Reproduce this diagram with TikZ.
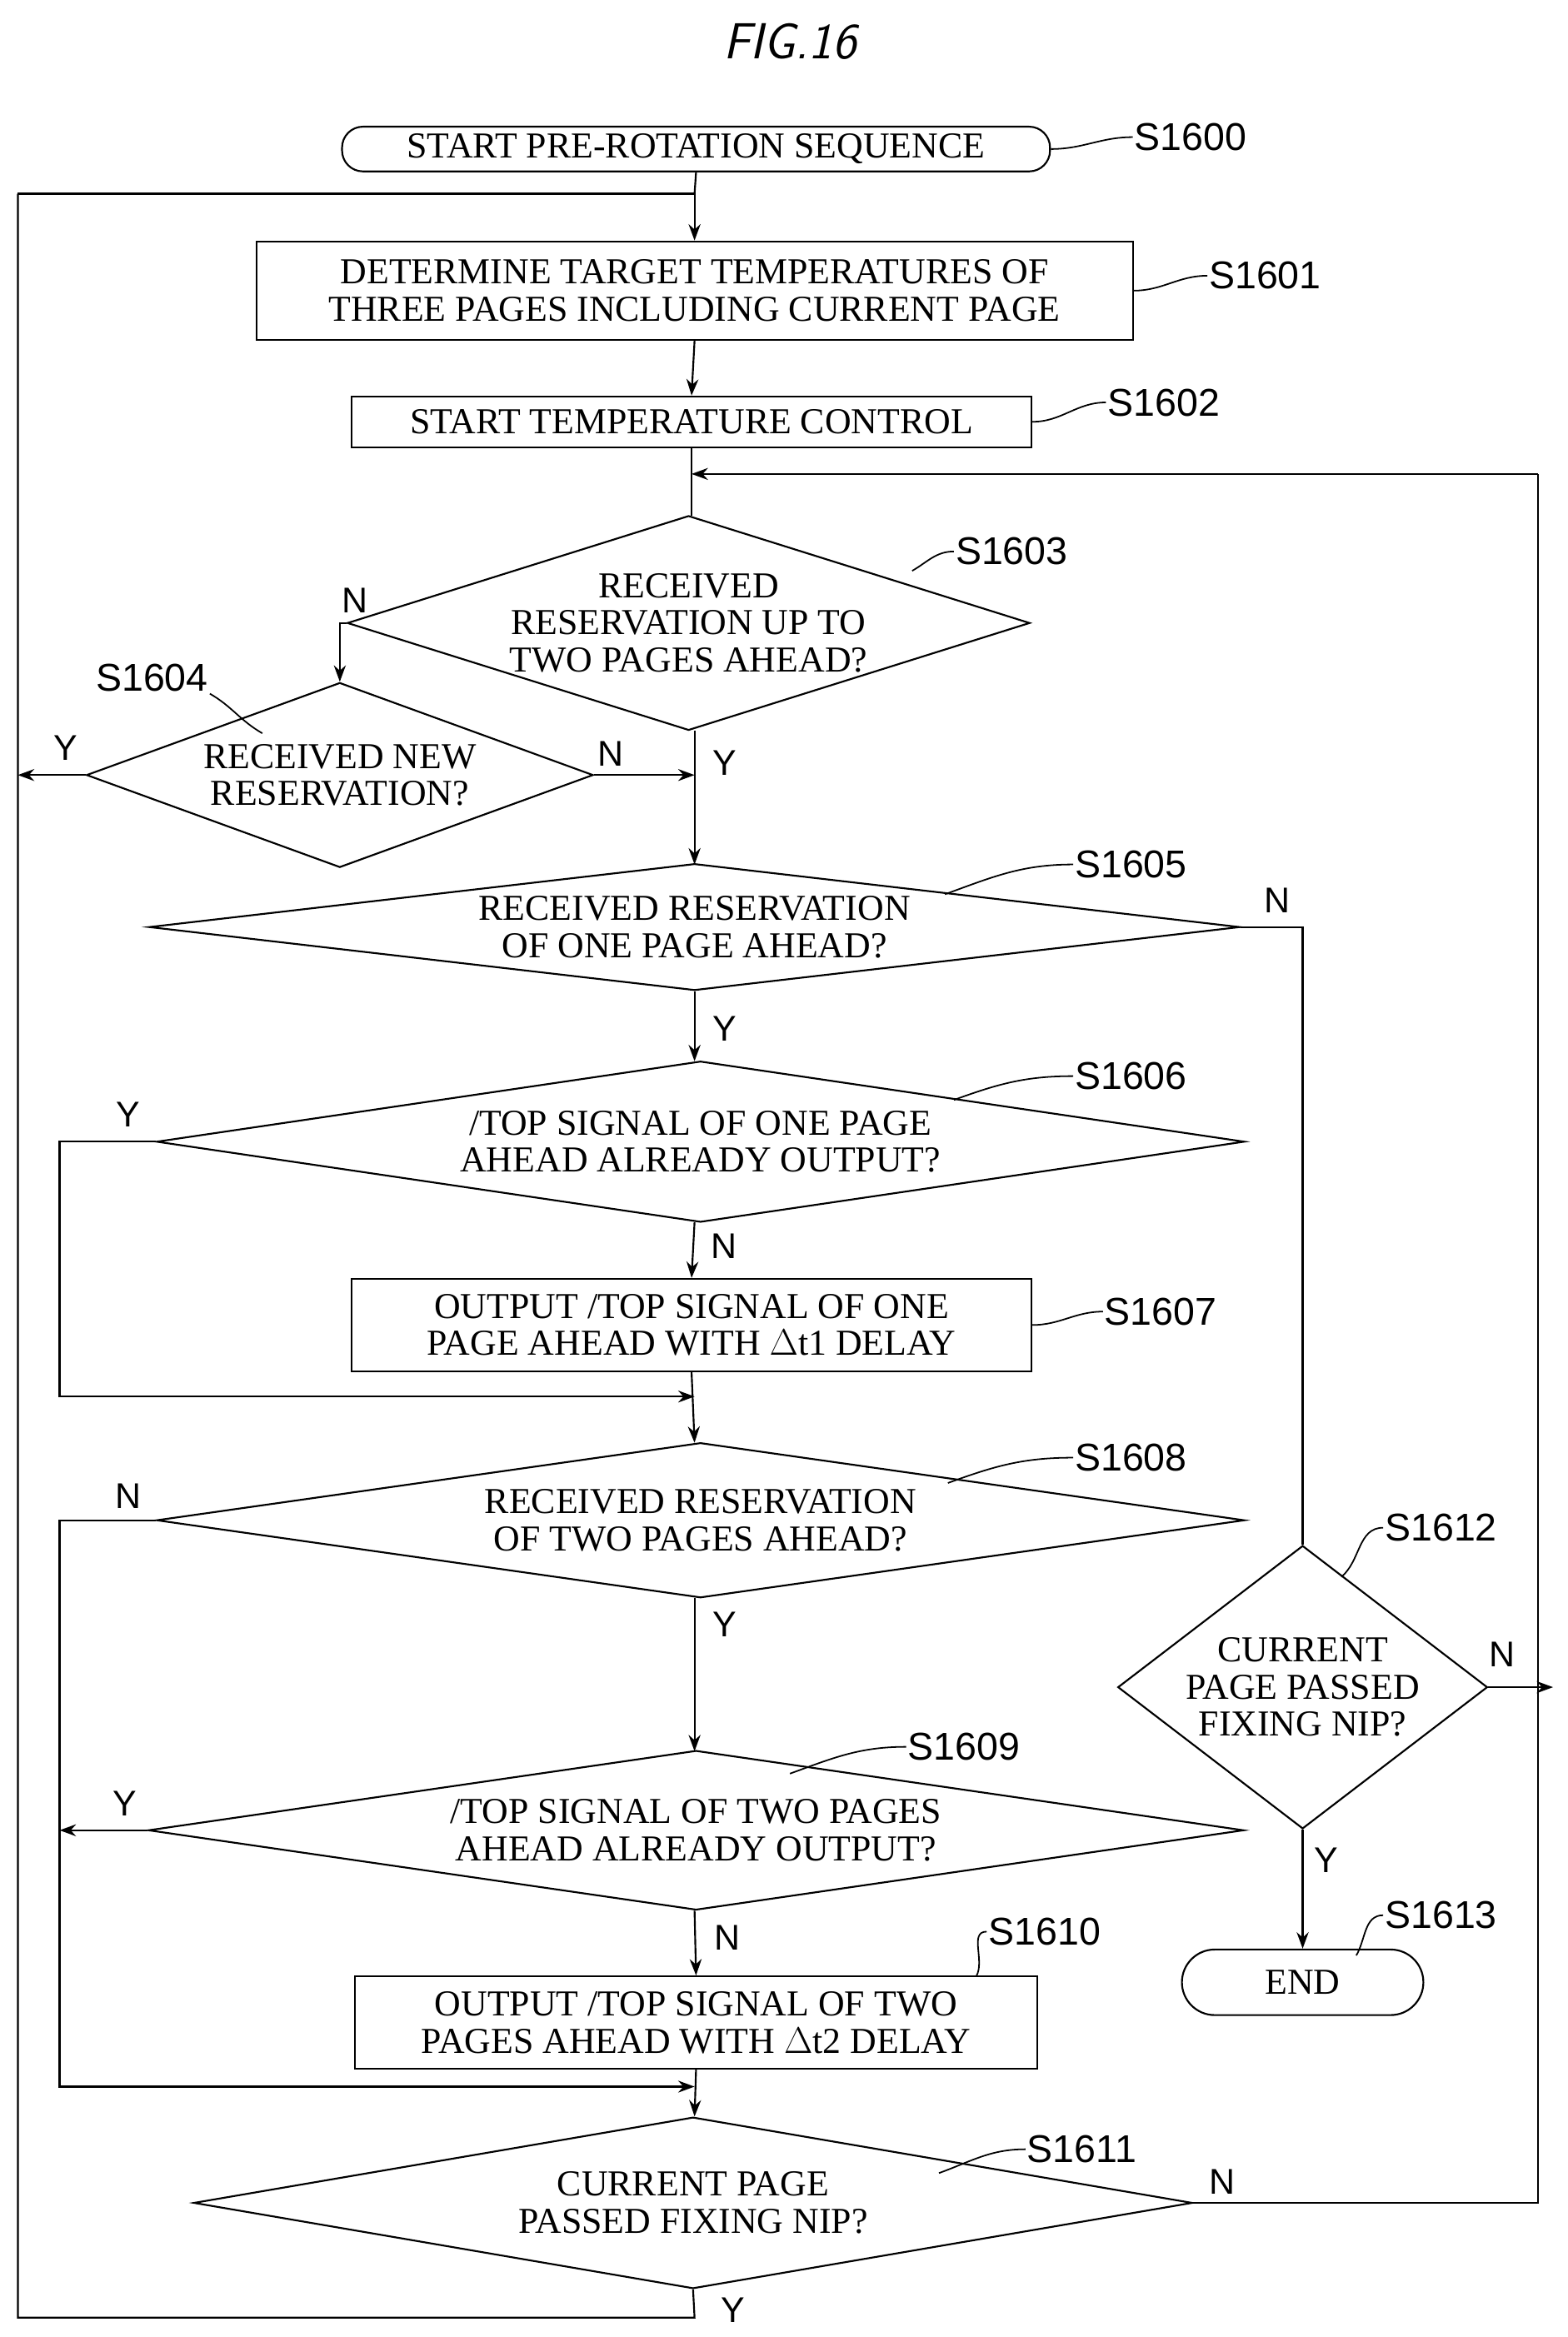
\documentclass[tikz,border=0pt]{standalone}
\usepackage{fontspec}
\setmainfont{Liberation Serif}
\newfontfamily\lblfont{Liberation Sans}
\usetikzlibrary{arrows.meta, positioning}
\usetikzlibrary{shapes.geometric}
\begin{document}
\begin{tikzpicture}[
    x=1pt, y=-1pt,
    every node/.style={align=center, font=\fontsize{24.5}{25}\selectfont},
    box/.style={draw, line width=1.2pt, inner sep=0pt},
    term/.style={draw, line width=1.2pt, rounded corners=14pt, inner sep=0pt},
    dia/.style={draw, diamond, line width=1.2pt, inner sep=0pt},
    txt/.style={inner sep=0pt, font=\fontsize{24.5}{25}\selectfont},
    steplbl/.style={font=\lblfont\fontsize{26}{26}\selectfont, inner sep=1pt},
    yn/.style={font=\lblfont\fontsize{24}{24}\selectfont, inner sep=1pt},
    line/.style={draw, line width=1.2pt, -{Stealth[length=11pt, width=8pt]}},
    plain/.style={draw, line width=1.2pt},
    wig/.style={draw, line width=1pt}
]
\useasboundingbox (0,0) rectangle (1052,1568);

% Title
\node[font=\sffamily\itshape\fontsize{34}{34}\selectfont] (title) at (530,28) {FIG.16};

% Boxes
\node[term, minimum width=475, minimum height=30] (start) at (467,100) {START PRE-ROTATION SEQUENCE};
\node[box, minimum width=588, minimum height=66] (s1601) at (466,195) {DETERMINE TARGET TEMPERATURES OF\\THREE PAGES INCLUDING CURRENT PAGE};
\node[box, minimum width=456, minimum height=34] (s1602) at (464,283) {START TEMPERATURE CONTROL};
\node[dia, minimum width=458, minimum height=144, label={[txt]center:RECEIVED\\RESERVATION UP TO\\TWO PAGES AHEAD?}] (s1603) at (462,418) {};
\node[dia, minimum width=340, minimum height=124, label={[txt]center:RECEIVED NEW\\RESERVATION?}] (s1604) at (228,520) {};
\node[dia, minimum width=732, minimum height=85, label={[txt]center:RECEIVED RESERVATION\\OF ONE PAGE AHEAD?}] (s1605) at (466,622) {};
\node[dia, minimum width=730, minimum height=108, label={[txt]center:/TOP SIGNAL OF ONE PAGE\\AHEAD ALREADY OUTPUT?}] (s1606) at (470,766) {};
\node[box, minimum width=456, minimum height=62] (s1607) at (464,889) {OUTPUT /TOP SIGNAL OF ONE\\PAGE AHEAD WITH $\Delta$t1 DELAY};
\node[dia, minimum width=730, minimum height=104, label={[txt]center:RECEIVED RESERVATION\\OF TWO PAGES AHEAD?}] (s1608) at (470,1020) {};
\node[dia, minimum width=735, minimum height=107, label={[txt]center:/TOP SIGNAL OF TWO PAGES\\AHEAD ALREADY OUTPUT?}] (s1609) at (467,1228) {};
\node[box, minimum width=458, minimum height=62] (s1610) at (467,1357) {OUTPUT /TOP SIGNAL OF TWO\\PAGES AHEAD WITH $\Delta$t2 DELAY};
\node[dia, minimum width=670, minimum height=115, label={[txt]center:CURRENT PAGE\\PASSED FIXING NIP?}] (s1611) at (465,1478) {};
\node[dia, minimum width=248, minimum height=190, label={[txt]center:CURRENT\\PAGE PASSED\\FIXING NIP?}] (s1612) at (874,1132) {};
\node[term, minimum width=162, minimum height=44, rounded corners=22pt] (end) at (874,1330) {END};

% Step labels
\node[steplbl, anchor=west] (l1600) at (760,92) {S1600};
\node[steplbl, anchor=west] (l1601) at (810,185) {S1601};
\node[steplbl, anchor=west] (l1602) at (742,270) {S1602};
\node[steplbl, anchor=west] (l1603) at (640,370) {S1603};
\node[steplbl] (l1604) at (102,455) {S1604};
\node[steplbl, anchor=west] (l1605) at (720,580) {S1605};
\node[steplbl, anchor=west] (l1606) at (720,722) {S1606};
\node[steplbl, anchor=west] (l1607) at (740,880) {S1607};
\node[steplbl, anchor=west] (l1608) at (720,978) {S1608};
\node[steplbl, anchor=west] (l1609) at (608,1172) {S1609};
\node[steplbl, anchor=west] (l1610) at (662,1296) {S1610};
\node[steplbl, anchor=west] (l1611) at (688,1442) {S1611};
\node[steplbl, anchor=west] (l1612) at (928,1025) {S1612};
\node[steplbl, anchor=west] (l1613) at (928,1285) {S1613};

% Wiggles to labels
\path[wig] (start.east) to[out=0, in=180] (l1600.west);
\path[wig] (s1601.east) to[out=0, in=180] (l1601.west);
\path[wig] (s1602.east) to[out=0, in=180] (l1602.west);
\path[wig] (612,383) to[out=30, in=180] (l1603.west);
\path[wig] (l1604.south east) to[out=-30, in=150] (176,492);
\path[wig] (634,600) to[out=20, in=180] (l1605.west);
\path[wig] (640,738) to[out=20, in=180] (l1606.west);
\path[wig] (s1607.east) to[out=0, in=180] (l1607.west);
\path[wig] (636,995) to[out=20, in=180] (l1608.west);
\path[wig] (530,1190) to[out=20, in=180] (l1609.west);
\path[wig] (655,1326) to[out=60, in=180] (l1610.west);
\path[wig] (630,1458) to[out=20, in=180] (l1611.west);
\path[wig] (900,1058) to[out=40, in=180] (l1612.west);
\path[wig] (910,1312) to[out=60, in=180] (l1613.west);

% Helper points
\coordinate (ltop) at (12,130);
\coordinate (lbot) at (12,1555);
\coordinate (rtop) at (1032,318);
\coordinate (rbot) at (1032,1478);

% Arrows
\path[plain] (start.south) -- (466,130);
\path[line] (ltop) -- (466,130) -- (s1601.north);
\path[line] (s1601.south) -- (s1602.north);
\path[plain] (464,300) -- (464,346);
\path[line] (rtop) -- (464,318);
\path[line] (s1603.west) -- (228,418) -- (s1604.north);
\node[yn] (n1603) at (238,403) {N};
\path[line] (s1604.west) -- (12,520);
\node[yn] (y1604) at (44,502) {Y};
\path[line] (s1604.east) -- (466,520);
\node[yn] (n1604) at (410,506) {N};
\path[line] (466,490) -- (466,580);
\node[yn] (y1603) at (486,512) {Y};
\path[plain] (s1605.east) -- (874,622) -- (s1612.north);
\node[yn] (n1605) at (857,604) {N};
\path[line] (s1605.south) -- (466,712);
\node[yn] (y1605) at (486,690) {Y};
\path[line] (s1606.west) -- (40,766) -- (40,937) -- (466,937);
\node[yn] (y1606) at (86,748) {Y};
\path[line] (466,820) -- (s1607.north);
\node[yn] (n1606) at (486,836) {N};
\path[line] (s1607.south) -- (466,968);
\path[line] (s1608.west) -- (40,1020) -- (40,1400) -- (466,1400);
\node[yn] (n1608) at (86,1004) {N};
\path[line] (466,1072) -- (466,1175);
\node[yn] (y1608) at (486,1090) {Y};
\path[line] (s1609.west) -- (40,1228);
\node[yn] (y1609) at (84,1210) {Y};
\path[line] (466,1282) -- (s1610.north);
\node[yn] (n1609) at (488,1300) {N};
\path[line] (s1610.south) -- (466,1420);
\path[plain] (s1611.east) -- (rbot) -- (rtop);
\node[yn] (n1611) at (820,1464) {N};
\path[plain] (s1611.south) -- (466,1555) -- (lbot) -- (ltop);
\node[yn] (y1611) at (492,1550) {Y};
\path[line] (s1612.east) -- (1042,1132);
\node[yn] (n1612) at (1008,1110) {N};
\path[line] (s1612.south) -- (end.north);
\node[yn] (y1612) at (890,1248) {Y};

\end{tikzpicture}
\end{document}
